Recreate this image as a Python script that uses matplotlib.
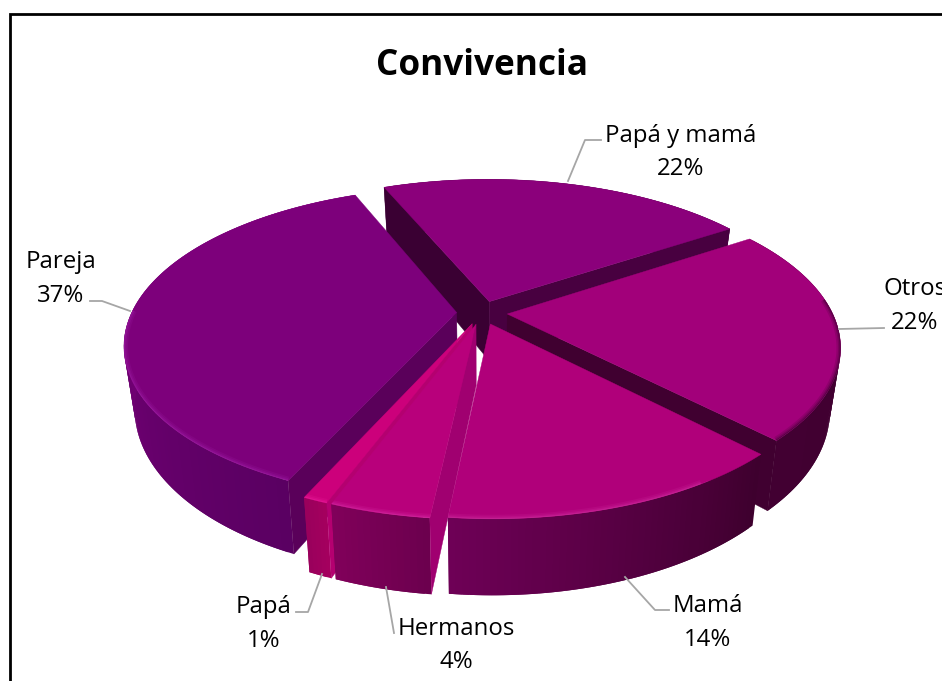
import numpy as np
import matplotlib
matplotlib.use("Agg")
import matplotlib.pyplot as plt
from matplotlib.colors import to_rgb
from matplotlib.patches import Polygon
from matplotlib.collections import PolyCollection

# Household composition shares, clockwise from the back of the pie
categories = ["Papá y mamá", "Otros", "Mamá", "Hermanos", "Papá", "Pareja"]
shares = [22, 22, 14, 4, 1, 37]

# Colours per slice, same order as the categories
top_colors = ["#8B007B", "#A2007A", "#B0007A", "#B8007B", "#CC007B", "#7D007B"]
wall_start = ["#3A0033", None, None, "#A00070", "#B40070", "#5A005A"]
wall_end = ["#480040", "#400030", None, None, None, None]
side_start = ["#480040", "#3E002E", "#3E002E", "#6C004E", "#A4005E", "#5A0062"]
side_end = ["#480040", "#420032", "#6E0056", "#80005A", "#9A005C", "#8C0088"]
rim_colors = [None, "#300028", "#D030A0", "#D830A8", "#F020A0", "#A020A8"]
rim_span = [None, (0.35, 1.0), (0.25, 1.0), (0.0, 1.0), (0.0, 1.0), (0.0, 0.5)]

# Draw order: back slices first, so nearer slices overlap them
draw_order = [0, 1, 5, 4, 3, 2]

# Projection of the tilted disc onto figure pixels
CX, CY = 482.0, 312.7
RX, RY = 325.0, 150.8
PERSP = 0.20
THICK = 60.0
SLANT = 0.03
EXPLODE = 0.078
START = 112.6


def project(x, y, d=0.0):
    w = 1 + PERSP * y
    return CX + RX * x / w * (1 - SLANT * d), CY - RY * y / w + THICK * d / w


def lerp(c1, c2, t):
    a, b = np.array(to_rgb(c1)), np.array(to_rgb(c2))
    return tuple(a + (b - a) * t)


fig = plt.figure(figsize=(9.42, 6.81), dpi=100, facecolor="white")
ax = fig.add_axes([0, 0, 1, 1])
ax.set_xlim(0, 942)
ax.set_ylim(681, 0)
ax.axis("off")

# Chart frame, running off the right and bottom edges
ax.plot([10, 10, 942], [681, 14, 14], color="black", lw=2.0, solid_joinstyle="miter", zorder=1)

fractions = np.array(shares) / sum(shares)
edges = START - 360 * np.concatenate([[0], np.cumsum(fractions)])

z = 2
for i in draw_order:
    a0, a1 = edges[i], edges[i + 1]
    mid = np.radians((a0 + a1) / 2)
    ox, oy = EXPLODE * np.cos(mid), EXPLODE * np.sin(mid)
    angles = np.radians(np.linspace(a0, a1, max(int(abs(a1 - a0)) + 2, 6)))
    xs, ys = ox + np.cos(angles), oy + np.sin(angles)

    # Outer curved side, shaded along the arc; steps overlap so no seams show
    quads, shades = [], []
    n = len(angles)
    for j in range(n - 1):
        e = min(j + 2, n - 1)
        p = [project(xs[j], ys[j]), project(xs[e], ys[e]),
             project(xs[e], ys[e], 1), project(xs[j], ys[j], 1)]
        quads.append(p)
        shades.append(lerp(side_start[i], side_end[i], j / max(n - 2, 1)))
    ax.add_collection(PolyCollection(quads, facecolors=shades, edgecolors="none", zorder=z))
    z += 1

    # Cut faces running from the rim to the centre, where they can be seen
    for k, col in ((0, wall_start[i]), (-1, wall_end[i])):
        if col is None:
            continue
        wall = [project(ox, oy), project(xs[k], ys[k]),
                project(xs[k], ys[k], 1), project(ox, oy, 1)]
        ax.add_patch(Polygon(wall, closed=True, facecolor=col, edgecolor=col, lw=0.3, zorder=z))
        z += 1

    # Top surface
    outline = [project(ox, oy)] + [project(a, b) for a, b in zip(xs, ys)]
    top = Polygon(outline, closed=True, facecolor=top_colors[i], edgecolor=top_colors[i], lw=0.3, zorder=z)
    ax.add_patch(top)
    z += 1

    # Soft bevel kept inside the top surface along the visible rim
    if rim_colors[i] is not None:
        lo, hi = rim_span[i]
        rim_a = np.radians(np.linspace(a0 + (a1 - a0) * lo, a0 + (a1 - a0) * hi, 80))
        rim = np.array([project(ox + np.cos(t), oy + np.sin(t)) for t in rim_a])
        for width, alpha in ((6.0, 0.16), (3.6, 0.22), (1.6, 0.40)):
            line, = ax.plot(rim[:, 0], rim[:, 1], color=rim_colors[i], lw=width, alpha=alpha,
                            solid_capstyle="butt", zorder=z)
            line.set_clip_path(top)
        z += 1

# Leader lines from each slice to its label
leaders = [
    [(568, 181), (585, 140), (601, 140)],
    [(839, 329), (884, 328)],
    [(625, 577), (655, 610), (669, 610)],
    [(386, 587), (394, 633)],
    [(322, 574), (308, 612), (296, 612)],
    [(130, 311), (102, 301), (90, 301)],
]
for path in leaders:
    px, py = zip(*path)
    ax.plot(px, py, color="#A6A6A6", lw=1.3, zorder=60)

# Label anchors in figure pixels: baselines of the name and percentage lines
label_pos = [
    (681, 142, 175),
    (915, 295, 329),
    (708, 612, 646),
    (456, 635, 668),
    (264, 613, 647),
    (61, 268, 302),
]
FONT = "Open Sans"
for name, share, (lx, y1, y2) in zip(categories, shares, label_pos):
    ax.text(lx, y1, name, ha="center", va="baseline", fontsize=17.3, family=FONT, color="black", zorder=70)
    ax.text(lx, y2, f"{share}%", ha="center", va="baseline", fontsize=17.3, family=FONT, color="black", zorder=70)

ax.text(482, 75, "Convivencia", ha="center", va="baseline", fontsize=25.3, fontweight="bold",
        family=FONT, color="black", zorder=70)

fig.savefig("out.png", dpi=100, facecolor="white")
